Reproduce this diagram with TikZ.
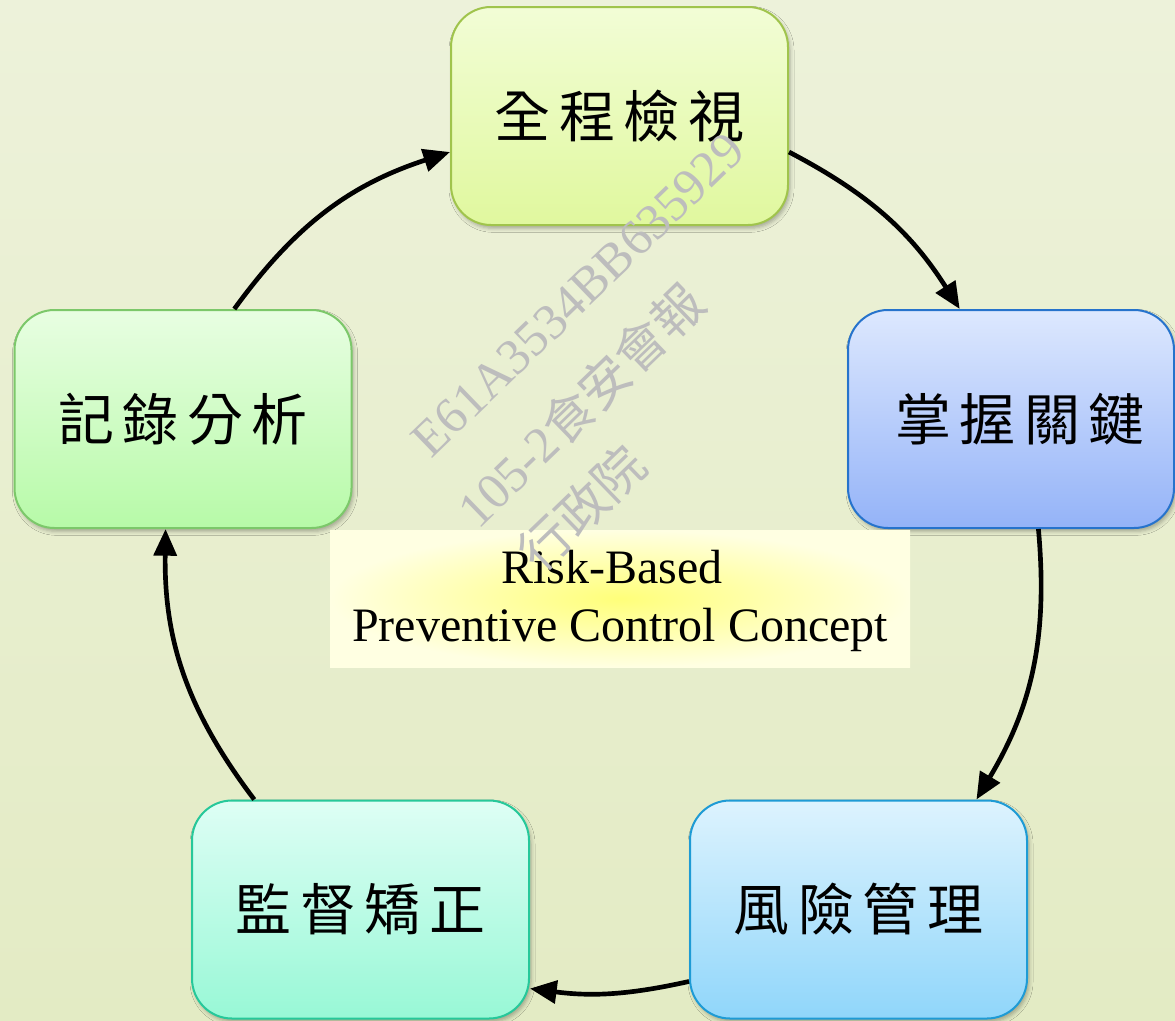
\documentclass[tikz,border=0pt]{standalone}
\usepackage{fontspec}
\setmainfont{Liberation Serif}
\newfontfamily\cjk{Noto Sans CJK TC}
\usetikzlibrary{arrows.meta,shadows.blur}
\definecolor{bgtop}{HTML}{EDF2DA}
\definecolor{bgbot}{HTML}{E3EBC4}
\definecolor{aT}{HTML}{F2FDD6}\definecolor{aB}{HTML}{E0F89E}\definecolor{aD}{HTML}{A0C44C}
\definecolor{bT}{HTML}{DDE8FE}\definecolor{bB}{HTML}{94B3F8}\definecolor{bD}{HTML}{2673CC}
\definecolor{cT}{HTML}{DDF3FE}\definecolor{cB}{HTML}{90D6FA}\definecolor{cD}{HTML}{1E9BD5}
\definecolor{dT}{HTML}{DEFEF5}\definecolor{dB}{HTML}{98F8D6}\definecolor{dD}{HTML}{26C89A}
\definecolor{eT}{HTML}{E8FEE2}\definecolor{eB}{HTML}{B7FAA8}\definecolor{eD}{HTML}{7CC86A}
\definecolor{yIn}{HTML}{FFFF7A}\definecolor{yOut}{HTML}{FFFFE2}
\definecolor{wm}{HTML}{BDBDBD}
\newcommand\cjkgap{\hspace{6.5pt}}
\tikzset{
  stage/.style={rounded corners=30pt, minimum width=252.75pt, minimum height=163.5pt,
    inner sep=0pt, line width=1.5pt, font=\cjk\fontsize{42}{50}\selectfont,
    blur shadow={shadow xshift=1.5pt,shadow yshift=-2.5pt,shadow blur radius=3pt,shadow opacity=30}},
  flow/.style={line width=3.5pt, -{Triangle[length=20pt,width=17pt]}},
  wmark/.style={text=wm, rotate=44, inner sep=0pt, font=\fontsize{38}{40}\selectfont}
}
\begin{document}
\begin{tikzpicture}[x=0.75pt,y=0.75pt]
\useasboundingbox (0,0) rectangle (1175,-1021);
\shade[top color=bgtop,bottom color=bgbot] (0,0) rectangle (1175,-1021);

\node[stage, top color=aT, bottom color=aB, draw=aD] (top) at (619.5,-116) {全\cjkgap 程\cjkgap 檢\cjkgap 視};
\node[stage, minimum width=244.5pt, top color=bT, bottom color=bB, draw=bD] (right) at (1011,-419) {\hspace{13.5pt}掌\cjkgap 握\cjkgap 關\cjkgap 鍵};
\node[stage, top color=cT, bottom color=cB, draw=cD] (br) at (858.5,-909.5) {風\cjkgap 險\cjkgap 管\cjkgap 理};
\node[stage, top color=dT, bottom color=dB, draw=dD] (bl) at (360.5,-909.5) {監\cjkgap 督\cjkgap 矯\cjkgap 正};
\node[stage, top color=eT, bottom color=eB, draw=eD] (left) at (183,-419) {記\cjkgap 錄\cjkgap 分\cjkgap 析};

\node[inner color=yIn, outer color=yOut, minimum width=435pt, minimum height=102.75pt, inner sep=0pt] (core) at (620,-598.5) {};
\node[align=center, font=\fontsize{36}{43}\selectfont, inner sep=0pt] (coretext) at (620,-601) {Risk-Based\hspace*{12pt}\\Preventive Control Concept};

\draw[flow] (top.-12) to[bend left=15] (right.115);
\draw[flow] (right.-76) to[bend left=18] (br.43);
\draw[flow] (br.203) to[bend left=10] (bl.-25);
\draw[flow] (bl.134) to[bend left=19] (left.-99);
\draw[flow] (left.65) to[bend left=18] (top.192);

\node[wmark] (w1) at (578,-295) {E61A3534BB635929};
\node[wmark] (w2) at (580,-405) {105-2{\cjk 食安會報}};
\node[wmark] (w3) at (582,-508) {{\cjk 行政院}};
\end{tikzpicture}
\end{document}
